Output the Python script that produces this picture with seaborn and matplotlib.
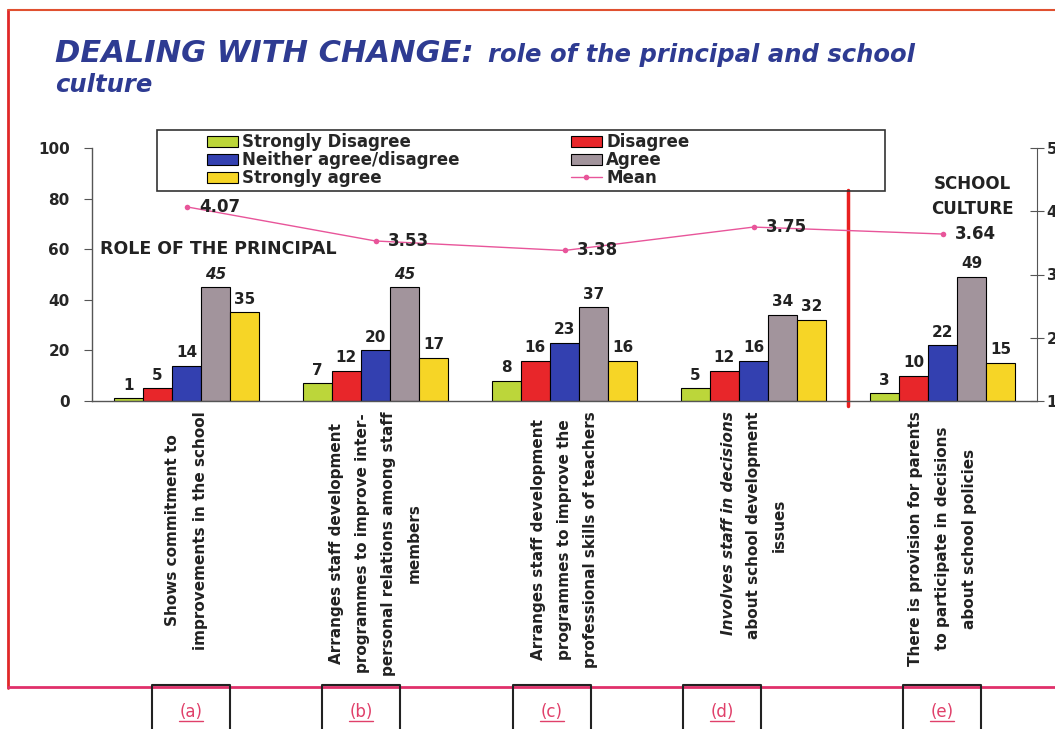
import numpy as np
import pandas as pd
import matplotlib
matplotlib.use("Agg")
import matplotlib.pyplot as plt
import matplotlib.transforms as mtrans
from matplotlib.patches import Rectangle, Patch
from matplotlib.lines import Line2D
import seaborn as sns

# data
items = ["(a)", "(b)", "(c)", "(d)", "(e)"]
responses = ["Strongly Disagree", "Disagree", "Neither agree/disagree", "Agree", "Strongly agree"]
strongly_disagree = [1, 7, 8, 5, 3]
disagree = [5, 12, 16, 12, 10]
neither = [14, 20, 23, 16, 22]
agree = [45, 45, 37, 34, 49]
strongly_agree = [35, 17, 16, 32, 15]
means = [4.07, 3.53, 3.38, 3.75, 3.64]

item_text = [
    "Shows commitment to\nimprovements in the school",
    "Arranges staff development\nprogrammes to improve inter-\npersonal relations among staff\nmembers",
    "Arranges staff development\nprogrammes to improve the\nprofessional skills of teachers",
    None,  # (d) is drawn in two parts, first line italic
    "There is provision for parents\nto participate in decisions\nabout school policies",
]
item_spacing = [2.05, 1.9, 1.9, 1.9, 2.0]
item_d_first = "Involves staff in decisions"
item_d_rest = "about school development\nissues"

colors = ["#bcd63a", "#e8262a", "#3340b0", "#a2949c", "#f6d526"]
mean_color = "#e8559a"
navy = "#2e3b92"
ink = "#222222"

sns.set_style("white")
plt.rcParams["font.family"] = ["DejaVu Sans"]

df = pd.DataFrame({
    "item": items,
    responses[0]: strongly_disagree,
    responses[1]: disagree,
    responses[2]: neither,
    responses[3]: agree,
    responses[4]: strongly_agree,
}).melt(id_vars="item", var_name="response", value_name="pct")

W, H = 1055, 729
fig = plt.figure(figsize=(W / 100, H / 100), dpi=100)
ax = fig.add_axes([92 / W, 1 - 401 / H, (1037 - 92) / W, (401 - 148) / H])

sns.barplot(data=df, x="item", y="pct", hue="response", order=items,
            hue_order=responses, palette=colors, saturation=1, width=0.77,
            edgecolor="black", linewidth=0.8, ax=ax, legend=False)

ax.set_xlim(-0.5, 4.5)
ax.set_ylim(0, 100)
ax.set_yticks([0, 20, 40, 60, 80, 100])
ax.set_xlabel("")
ax.set_ylabel("")
ax.set_xticks(range(5))
ax.set_xticklabels([])
ax.tick_params(axis="x", length=0)
ax.set_xticks(np.arange(-0.5, 5, 1), minor=True)
ax.tick_params(axis="x", which="minor", length=4, direction="inout", color="#555555")
ax.tick_params(axis="y", length=6, direction="out", color="#555555", labelsize=11, pad=10)
for t in ax.get_yticklabels():
    t.set_fontweight("bold")
for s in ["top", "right"]:
    ax.spines[s].set_visible(False)
for s in ["left", "bottom"]:
    ax.spines[s].set_color("#555555")
    ax.spines[s].set_linewidth(1)

# value labels on bars
for k, cont in enumerate(ax.containers):
    labs = ax.bar_label(cont, padding=4, fontsize=11, fontweight="bold", color=ink)
    if k == 3:
        labs[0].set_fontstyle("italic")
        labs[1].set_fontstyle("italic")

# mean line on a 1-5 scale
ax2 = ax.twinx()
sns.lineplot(x=list(range(5)), y=means, ax=ax2, color=mean_color, linewidth=1,
             marker="o", markersize=4, markeredgewidth=0)
ax2.set_ylim(1, 5)
ax2.set_yticks([1, 2, 3, 4, 5])
ax2.tick_params(axis="y", length=10, direction="inout", color="#555555", labelsize=11, pad=2)
for t in ax2.get_yticklabels():
    t.set_fontweight("bold")
for s in ["top", "left", "bottom"]:
    ax2.spines[s].set_visible(False)
ax2.spines["right"].set_color("#555555")
for i, m in enumerate(means):
    ax2.text(i + 0.065, m, f"{m:.2f}", ha="left", va="center", fontsize=12,
             fontweight="bold", color=ink)

# section divider and section names
ax.axvline(3.5, ymin=-0.02, ymax=0.835, color="#e82020", linewidth=2.5, clip_on=False)
ax.text(0.008, 60, "ROLE OF THE PRINCIPAL", transform=ax.get_yaxis_transform(),
        ha="left", va="center", fontsize=12.5, fontweight="bold", color=ink)
ax.text(4.16, 81, "SCHOOL\nCULTURE", ha="center", va="center", fontsize=12,
        fontweight="bold", color=ink, linespacing=1.5)

# category texts under the axis
xt = ax.get_xaxis_transform()
line_pt = 18
for i, txt in enumerate(item_text):
    if txt is None:
        continue
    ax.text(i, -0.04, txt, transform=xt, rotation=90, ha="center", va="top",
            multialignment="center", fontsize=11, fontweight="bold",
            linespacing=item_spacing[i], color=ink)
t1 = mtrans.offset_copy(xt, fig=fig, x=-line_pt, y=0, units="points")
t2 = mtrans.offset_copy(xt, fig=fig, x=line_pt / 2, y=0, units="points")
ax.text(3, -0.04, item_d_first, transform=t1, rotation=90, ha="center", va="top",
        fontsize=11, fontweight="bold", fontstyle="italic", color=ink)
ax.text(3, -0.04, item_d_rest, transform=t2, rotation=90, ha="center", va="top",
        multialignment="center", fontsize=11, fontweight="bold",
        linespacing=item_spacing[3], color=ink)

# legend: two columns placed separately, one wide frame round both
def patch(c):
    return Patch(facecolor=c, edgecolor="black", linewidth=0.8)

leg_kw = dict(loc="upper left", frameon=False, prop={"weight": "bold", "size": 12},
              handlelength=1.85, handleheight=0.65, handletextpad=0.25,
              labelspacing=0.0, borderpad=0, borderaxespad=0)
fig.legend([patch(colors[0]), patch(colors[2]), patch(colors[4])],
           [responses[0], responses[2], responses[4]],
           bbox_to_anchor=(207 / W, 1 - 133 / H), **leg_kw)
fig.legend([patch(colors[1]), patch(colors[3]),
            Line2D([], [], color=mean_color, linewidth=1, marker="o", markersize=3)],
           [responses[1], responses[3], "Mean"],
           bbox_to_anchor=(571 / W, 1 - 133 / H), **leg_kw)
fig.add_artist(Rectangle((157 / W, 1 - 191 / H), (885 - 157) / W, 61 / H,
                         transform=fig.transFigure, fill=False, edgecolor="#333333",
                         linewidth=1.2, zorder=5))

# title
fig.text(55 / W, 1 - 62 / H, "DEALING WITH CHANGE:", fontsize=22, fontweight="bold",
         fontstyle="italic", color=navy)
fig.text(488 / W, 1 - 62 / H, "role of the principal and school", fontsize=17.5,
         fontweight="bold", fontstyle="italic", color=navy)
fig.text(55 / W, 1 - 92 / H, "culture", fontsize=17.5, fontweight="bold",
         fontstyle="italic", color=navy)

# page frame and item boxes
fig.add_artist(Line2D([8 / W, 8 / W], [1 - 10 / H, 1 - 688 / H], transform=fig.transFigure,
                      color="#e02828", linewidth=2))
fig.add_artist(Line2D([8 / W, 1.0], [1 - 10 / H, 1 - 10 / H], transform=fig.transFigure,
                      color="#e05030", linewidth=1.5))
fig.add_artist(Line2D([8 / W, 1.0], [1 - 687 / H, 1 - 687 / H], transform=fig.transFigure,
                      color="#e0306a", linewidth=2))
box_left = [152, 322, 513, 683, 903]
for x0, lab in zip(box_left, items):
    fig.add_artist(Line2D([x0 / W, x0 / W, (x0 + 78) / W, (x0 + 78) / W],
                          [0, 1 - 685 / H, 1 - 685 / H, 0], transform=fig.transFigure,
                          color=ink, linewidth=1.5))
    fig.text((x0 + 39) / W, 1 - 712 / H, lab, ha="center", va="center",
             fontsize=12, color="#e0406a")
    fig.add_artist(Line2D([(x0 + 27) / W, (x0 + 51) / W], [1 - 721 / H, 1 - 721 / H],
                          transform=fig.transFigure, color="#e0406a", linewidth=1))

fig.savefig("out.png", dpi=100)
